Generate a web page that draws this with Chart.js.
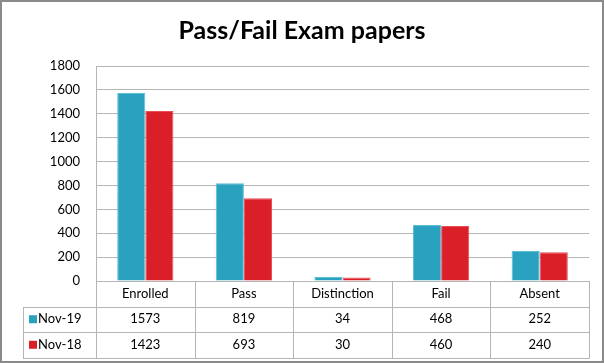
<!DOCTYPE html>
<html>
<head>
<meta charset="utf-8">
<script src="https://cdn.jsdelivr.net/npm/chart.js@4.4.1/dist/chart.umd.min.js"></script>
<style>
  body { margin: 0; background: #fff; }
  canvas { display: block; }
</style>
</head>
<body>
<canvas id="myChart" width="604" height="363"></canvas>
<script>
const categories = ["Enrolled", "Pass", "Distinction", "Fail", "Absent"];
const seriesNames = ["Nov-19", "Nov-18"];
const nov19 = [1573, 819, 34, 468, 252];
const nov18 = [1423, 693, 30, 460, 240];
const yTicks = [0, 200, 400, 600, 800, 1000, 1200, 1400, 1600, 1800];

const colors = ["#2aa1bf", "#da1f29"];
const edgeColors = ["#5cc0d8", "#ea4f58"];
const gridColor = "#b5b5b5";
const fontFamily = "Lato, 'Open Sans', sans-serif";

// draws the title, the data table under the plot and the frame
const tablePlugin = {
  id: "dataTable",
  beforeDraw(chart) {
    const ctx = chart.ctx;
    ctx.save();
    ctx.fillStyle = "#ffffff";
    ctx.fillRect(0, 0, chart.width, chart.height);
    ctx.restore();
  },
  afterDraw(chart) {
    const ctx = chart.ctx;
    const area = chart.chartArea;
    const x = chart.scales.x;
    const colW = (area.right - area.left) / categories.length;
    const rowH = 25.5;
    const top = area.bottom;
    const tableLeft = 23;
    const rows = [nov19, nov18];

    ctx.save();
    // title
    ctx.fillStyle = "#000";
    ctx.font = "bold 25px " + fontFamily;
    ctx.textAlign = "center";
    ctx.textBaseline = "middle";
    ctx.fillText("Pass/Fail Exam papers", chart.width / 2, 31);

    // table lines
    ctx.strokeStyle = gridColor;
    ctx.lineWidth = 1;
    ctx.beginPath();
    for (let r = 1; r <= 3; r++) {
      const yy = Math.round(top + r * rowH) + 0.5;
      ctx.moveTo(tableLeft, yy);
      ctx.lineTo(area.right, yy);
    }
    for (let c = 0; c <= categories.length; c++) {
      const xx = Math.round(area.left + c * colW) + 0.5;
      ctx.moveTo(xx, top);
      ctx.lineTo(xx, Math.round(top + 3 * rowH) + 0.5);
    }
    ctx.moveTo(tableLeft + 0.5, Math.round(top + rowH) + 0.5);
    ctx.lineTo(tableLeft + 0.5, Math.round(top + 3 * rowH) + 0.5);
    ctx.stroke();

    // header + values
    ctx.fillStyle = "#000";
    ctx.font = "13px " + fontFamily;
    ctx.textAlign = "center";
    categories.forEach((cat, i) => {
      const cx = x.getPixelForValue(i);
      ctx.fillText(cat, cx, top + rowH / 2);
      rows.forEach((vals, r) => {
        ctx.fillText(String(vals[i]), cx, top + rowH * (r + 1.5));
      });
    });

    // series labels with swatches
    ctx.textAlign = "left";
    seriesNames.forEach((name, r) => {
      const cy = top + rowH * (r + 1.5);
      ctx.fillStyle = colors[r];
      ctx.fillRect(29, cy - 4, 8, 8);
      ctx.fillStyle = "#000";
      ctx.fillText(name, 38, cy);
    });

    // outer frame
    ctx.strokeStyle = "#8a8a8a";
    ctx.lineWidth = 2;
    ctx.strokeRect(1, 1, chart.width - 2, chart.height - 2);
    ctx.restore();
  }
};

new Chart(document.getElementById("myChart").getContext("2d"), {
  type: "bar",
  data: {
    labels: categories,
    datasets: [
      {
        label: seriesNames[0],
        data: nov19,
        backgroundColor: colors[0],
        borderColor: edgeColors[0],
        borderWidth: 1,
      },
      {
        label: seriesNames[1],
        data: nov18,
        backgroundColor: colors[1],
        borderColor: edgeColors[1],
        borderWidth: 1,
      },
    ],
  },
  options: {
    responsive: false,
    animation: false,
    devicePixelRatio: 1,
    layout: {
      padding: { top: 66, right: 15, bottom: 82, left: 0 }
    },
    datasets: {
      bar: { categoryPercentage: 0.57, barPercentage: 1.0 }
    },
    plugins: {
      legend: { display: false },
      title: { display: false },
      tooltip: { enabled: false }
    },
    scales: {
      x: {
        display: false,
        offset: true
      },
      y: {
        min: 0,
        max: 1800,
        afterBuildTicks: (scale) => {
          scale.ticks = yTicks.map(v => ({ value: v }));
        },
        afterFit: (scale) => { scale.width = 96; },
        grid: { color: gridColor, drawTicks: false },
        border: { display: true, color: gridColor },
        ticks: {
          padding: 16,
          color: "#000",
          font: { family: fontFamily, size: 13 },
          callback: (value) => String(value)
        }
      }
    }
  },
  plugins: [tablePlugin]
});
</script>
</body>
</html>
